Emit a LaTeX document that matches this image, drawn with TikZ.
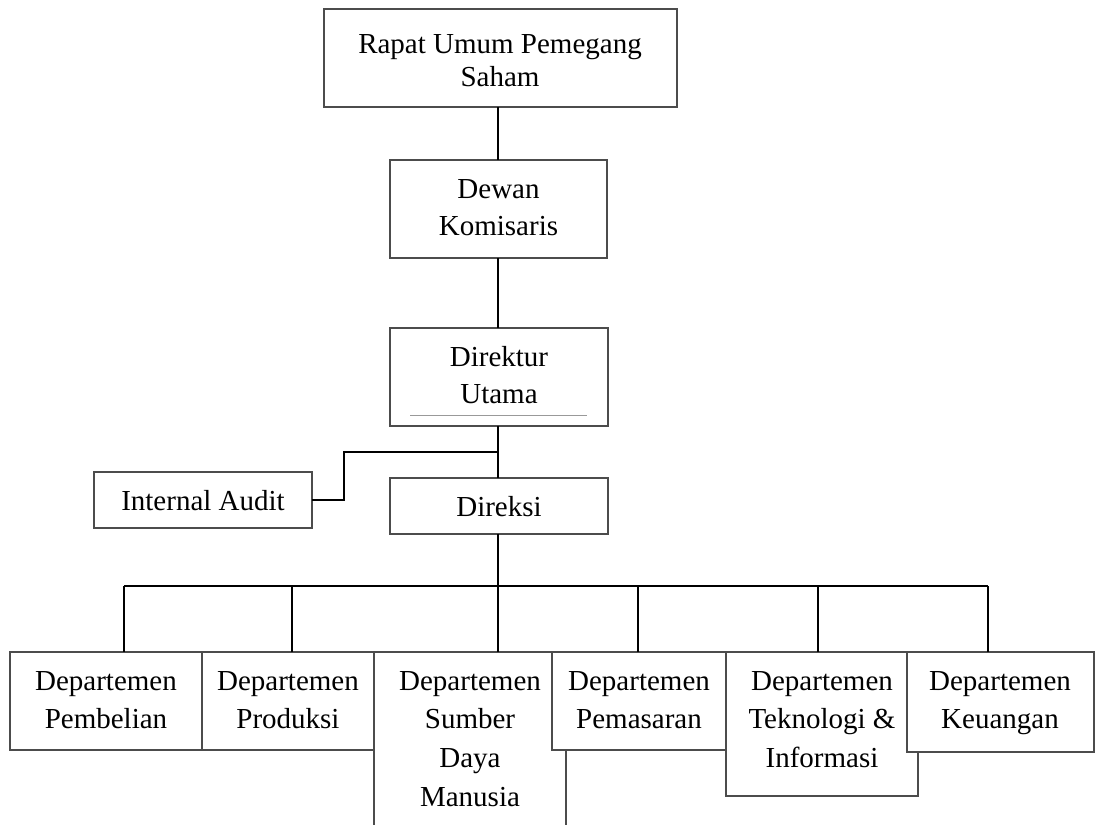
\documentclass[tikz,border=0pt]{standalone}
\usepackage{fontspec}
\setmainfont{Liberation Serif}
\begin{document}
\begin{tikzpicture}[x=1pt,y=-1pt,
  box/.style={draw=black!70, line width=1.3pt, fill=white, rectangle,
    inner sep=0pt, outer sep=0pt, anchor=north west},
  txt/.style={inner sep=0pt, align=center, anchor=base,
    font=\fontsize{29}{38.7}\selectfont},
  link/.style={draw=black, line width=2.3pt}]
\useasboundingbox (0,0) rectangle (1096,825);
\clip (0,0) rectangle (1096,825);

% upper chain of boxes
\node[box, minimum width=353, minimum height=98] (rups) at (324,9) {};
\node[box, minimum width=217, minimum height=98] (dewan) at (390,160) {};
\node[box, minimum width=218, minimum height=98] (dirut) at (390,328) {};
\draw[black!40, line width=0.8pt] (410,415) -- (587,415);
\node[box, minimum width=218, minimum height=56] (direksi) at (390,478) {};
\node[box, minimum width=218, minimum height=56] (audit) at (94,472) {};

% departments (later boxes overlap earlier ones)
\node[box, minimum width=192, minimum height=98] (beli) at (10,652) {};
\node[box, minimum width=172, minimum height=98] (prod) at (202,652) {};
\node[box, minimum width=192, minimum height=190] (sdm) at (374,652) {};
\node[box, minimum width=174, minimum height=98] (pasar) at (552,652) {};
\node[box, minimum width=192, minimum height=144] (tekno) at (726,652) {};
\node[box, minimum width=187, minimum height=100] (uang) at (907,652) {};

% box texts, placed by the baseline of their last line
\node[txt, font=\fontsize{29}{33.5}\selectfont] (rupsT) at (500,86.5) {Rapat Umum Pemegang\\Saham};
\node[txt, font=\fontsize{29}{37.5}\selectfont] (dewanT) at (498.5,235.5) {Dewan\\Komisaris};
\node[txt, font=\fontsize{29}{37.5}\selectfont] (dirutT) at (499,403.5) {Direktur\\Utama};
\node[txt] (direksiT) at (499,516) {Direksi};
\node[txt] (auditT) at (203,510) {Internal Audit};
\node[txt] (beliT) at (106,728.7) {Departemen\\Pembelian};
\node[txt] (prodT) at (288,728.7) {Departemen\\Produksi};
\node[txt] (sdmT) at (470,806.1) {Departemen\\Sumber\\Daya\\Manusia};
\node[txt] (pasarT) at (639,728.7) {Departemen\\Pemasaran};
\node[txt] (teknoT) at (822,767.4) {Departemen\\Teknologi \&\\Informasi};
\node[txt] (uangT) at (1000,728.7) {Departemen\\Keuangan};

% connectors
\coordinate (spine) at (498,0);
\coordinate (branch) at (498,452);
\coordinate (elbow) at (344,452);
\coordinate (bus) at (498,586);
\coordinate (busL) at (124,586);
\coordinate (busR) at (988,586);

\draw[link] (spine |- rups.south) -- (spine |- dewan.north);
\draw[link] (spine |- dewan.south) -- (spine |- dirut.north);
\draw[link] (spine |- dirut.south) -- (spine |- direksi.north);
\draw[link] (branch) -- (elbow) -- (elbow |- audit.east) -- (audit.east);
\draw[link] (spine |- direksi.south) -- (bus);
\draw[link] (busL) -- (busR);
\draw[link] (busL) -- (busL |- beli.north);
\draw[link] (292,586) -- (292,652);
\draw[link] (bus) -- (spine |- sdm.north);
\draw[link] (638,586) -- (638,652);
\draw[link] (818,586) -- (818,652);
\draw[link] (busR) -- (busR |- uang.north);
\end{tikzpicture}
\end{document}
